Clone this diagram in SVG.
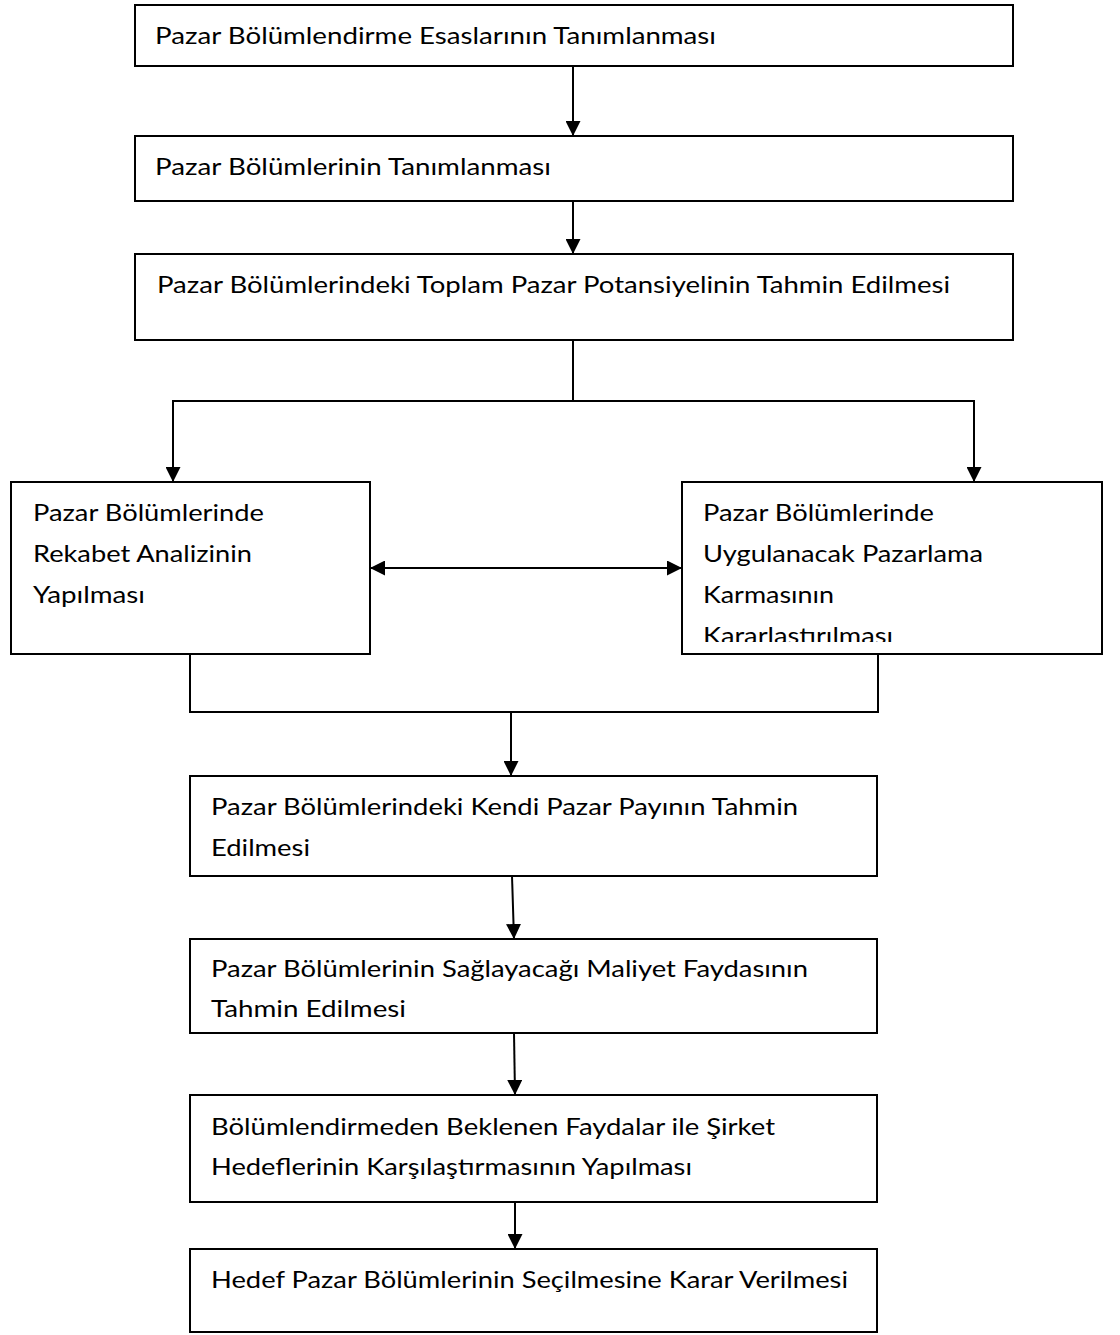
<svg xmlns="http://www.w3.org/2000/svg" width="1120" height="1335" viewBox="0 0 1120 1335">
  <style>
    .box { fill: #ffffff; stroke: #000000; stroke-width: 2; }
    .lbl { font-family: Lato, "Open Sans", "Liberation Sans", sans-serif; font-size: 24px; fill: #000000; }
    .conn { fill: none; stroke: #000000; stroke-width: 2; }
    .arrow { marker-end: url(#head); }
  </style>
  <defs>
    <marker id="head" viewBox="0 0 10 10" refX="10" refY="5" markerWidth="15" markerHeight="15"
            markerUnits="userSpaceOnUse" orient="auto-start-reverse" preserveAspectRatio="none">
      <path d="M0,0 L10,5 L0,10 Z" fill="#000000"/>
    </marker>
    <clipPath id="clip-karma">
      <rect x="682" y="482" width="420" height="160"/>
    </clipPath>
  </defs>
  <rect width="1120" height="1335" fill="#ffffff"/>

  <!-- connectors -->
  <g id="connectors">
    <line class="conn arrow" x1="573" y1="66" x2="573" y2="136"/>
    <line class="conn arrow" x1="573" y1="201" x2="573" y2="254"/>
    <polyline class="conn" points="573,340 573,401"/>
    <polyline class="conn arrow" points="573,401 173,401 173,482"/>
    <polyline class="conn arrow" points="573,401 974,401 974,482"/>
    <line class="conn" x1="370" y1="568" x2="682" y2="568" marker-start="url(#head)" marker-end="url(#head)"/>
    <polyline class="conn" points="190,654 190,712 878,712 878,654"/>
    <line class="conn arrow" x1="511" y1="712" x2="511" y2="776"/>
    <line class="conn arrow" x1="512" y1="876" x2="514" y2="939"/>
    <line class="conn arrow" x1="514" y1="1033" x2="515" y2="1095"/>
    <line class="conn arrow" x1="515" y1="1201" x2="515" y2="1249"/>
  </g>

  <g id="node-esaslar">
    <rect class="box" x="135" y="5" width="878" height="61"/>
    <text class="lbl" x="155" y="44" textLength="561" lengthAdjust="spacingAndGlyphs">Pazar Bölümlendirme Esaslarının Tanımlanması</text>
  </g>

  <g id="node-bolumler">
    <rect class="box" x="135" y="136" width="878" height="65"/>
    <text class="lbl" x="155" y="175" textLength="396" lengthAdjust="spacingAndGlyphs">Pazar Bölümlerinin Tanımlanması</text>
  </g>

  <g id="node-potansiyel">
    <rect class="box" x="135" y="254" width="878" height="86"/>
    <text class="lbl" x="157" y="293" textLength="793" lengthAdjust="spacingAndGlyphs">Pazar Bölümlerindeki Toplam Pazar Potansiyelinin Tahmin Edilmesi</text>
  </g>

  <g id="node-rekabet">
    <rect class="box" x="11" y="482" width="359" height="172"/>
    <text class="lbl" x="33" y="521" textLength="231" lengthAdjust="spacingAndGlyphs">Pazar Bölümlerinde</text>
    <text class="lbl" x="33" y="562" textLength="219" lengthAdjust="spacingAndGlyphs">Rekabet Analizinin</text>
    <text class="lbl" x="33" y="603" textLength="112" lengthAdjust="spacingAndGlyphs">Yapılması</text>
  </g>

  <g id="node-karma">
    <rect class="box" x="682" y="482" width="420" height="172"/>
    <g clip-path="url(#clip-karma)">
      <text class="lbl" x="703" y="521" textLength="231" lengthAdjust="spacingAndGlyphs">Pazar Bölümlerinde</text>
      <text class="lbl" x="703" y="562" textLength="280" lengthAdjust="spacingAndGlyphs">Uygulanacak Pazarlama</text>
      <text class="lbl" x="703" y="603" textLength="131" lengthAdjust="spacingAndGlyphs">Karmasının</text>
      <text class="lbl" x="703" y="644" textLength="190" lengthAdjust="spacingAndGlyphs">Kararlastırılması</text>
    </g>
  </g>

  <g id="node-pazar-payi">
    <rect class="box" x="190" y="776" width="687" height="100"/>
    <text class="lbl" x="211" y="815" textLength="587" lengthAdjust="spacingAndGlyphs">Pazar Bölümlerindeki Kendi Pazar Payının Tahmin</text>
    <text class="lbl" x="211" y="856" textLength="99" lengthAdjust="spacingAndGlyphs">Edilmesi</text>
  </g>

  <g id="node-maliyet">
    <rect class="box" x="190" y="939" width="687" height="94"/>
    <text class="lbl" x="211" y="977" textLength="597" lengthAdjust="spacingAndGlyphs">Pazar Bölümlerinin Sağlayacağı Maliyet Faydasının</text>
    <text class="lbl" x="211" y="1017" textLength="195" lengthAdjust="spacingAndGlyphs">Tahmin Edilmesi</text>
  </g>

  <g id="node-karsilastirma">
    <rect class="box" x="190" y="1095" width="687" height="107"/>
    <text class="lbl" x="211" y="1135" textLength="564" lengthAdjust="spacingAndGlyphs">Bölümlendirmeden Beklenen Faydalar ile Şirket</text>
    <text class="lbl" x="211" y="1175" textLength="481" lengthAdjust="spacingAndGlyphs">Hedeflerinin Karşılaştırmasının Yapılması</text>
  </g>

  <g id="node-karar">
    <rect class="box" x="190" y="1249" width="687" height="83"/>
    <text class="lbl" x="211" y="1288" textLength="637" lengthAdjust="spacingAndGlyphs">Hedef Pazar Bölümlerinin Seçilmesine Karar Verilmesi</text>
  </g>
</svg>
